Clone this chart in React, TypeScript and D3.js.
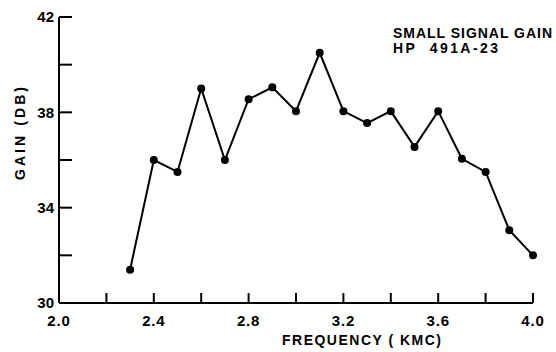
import * as d3 from 'd3'

const freq = [2.3, 2.4, 2.5, 2.6, 2.7, 2.8, 2.9, 3.0, 3.1, 3.2, 3.3, 3.4, 3.5, 3.6, 3.7, 3.8, 3.9, 4.0]
const gain = [31.4, 36.0, 35.5, 39.0, 36.0, 38.55, 39.05, 38.05, 40.5, 38.05, 37.55, 38.05, 36.55, 38.05, 36.05, 35.5, 33.05, 32.0]
const xTicks = [2.2, 2.4, 2.6, 2.8, 3.0, 3.2, 3.4, 3.6, 3.8, 4.0]
const xLabels = [2.0, 2.4, 2.8, 3.2, 3.6, 4.0]
const yTicks = [32, 34, 36, 38, 40, 42]
const yLabels = [30, 34, 38, 42]
const titleLines = ['SMALL SIGNAL GAIN', 'HP  491A-23']
const titleWidths = [159, 105]

const font = "'Liberation Sans', Arial, sans-serif"

export default function App() {
  const width = 556
  const height = 352
  const x = d3.scaleLinear().domain([2.0, 4.0]).range([59, 533])
  const y = d3.scaleLinear().domain([30, 42]).range([303, 17])
  const pts = freq.map((f, i) => [x(f), y(gain[i])] as [number, number])
  const line = d3.line()(pts) ?? ''

  return (
    <svg
      width={width}
      height={height}
      style={{ position: 'absolute', left: 0, top: 0, background: '#fff' }}
      fontFamily={font}
      fontWeight="bold"
    >
      {/* axes */}
      <line x1={x(2)} x2={x(2)} y1={y(42)} y2={y(30)} stroke="#000" strokeWidth={2} />
      <line x1={x(2)} x2={x(4)} y1={y(30)} y2={y(30)} stroke="#000" strokeWidth={2} />
      {yTicks.map((t) => (
        <line key={t} x1={x(2)} x2={x(2) + 13} y1={y(t)} y2={y(t)} stroke="#000" strokeWidth={2} />
      ))}
      {xTicks.map((t) => (
        <line key={t} x1={x(t)} x2={x(t)} y1={y(30)} y2={y(30) - 10} stroke="#000" strokeWidth={2} />
      ))}
      {yLabels.map((t) => (
        <text key={t} x={x(2) - 5} y={y(t)} dy="0.35em" textAnchor="end" fontSize={15}>
          {t}
        </text>
      ))}
      {xLabels.map((t) => (
        <text key={t} x={x(t)} y={326} textAnchor="middle" fontSize={15} letterSpacing={0.8}>
          {t.toFixed(1)}
        </text>
      ))}
      <text x={282} y={345} fontSize={14} textLength={159} lengthAdjust="spacing">
        FREQUENCY ( KMC)
      </text>
      <text
        transform="translate(25,180) rotate(-90)"
        fontSize={14}
        textLength={93}
        lengthAdjust="spacing"
      >
        GAIN (DB)
      </text>
      {titleLines.map((t, i) => (
        <text
          key={t}
          x={393}
          y={38 + i * 15}
          fontSize={14}
          textLength={titleWidths[i]}
          lengthAdjust="spacing"
          style={{ whiteSpace: 'pre' }}
        >
          {t}
        </text>
      ))}
      {/* data */}
      <path d={line} fill="none" stroke="#000" strokeWidth={2} />
      {pts.map((p, i) => (
        <circle key={i} cx={p[0]} cy={p[1]} r={4} fill="#000" />
      ))}
    </svg>
  )
}
